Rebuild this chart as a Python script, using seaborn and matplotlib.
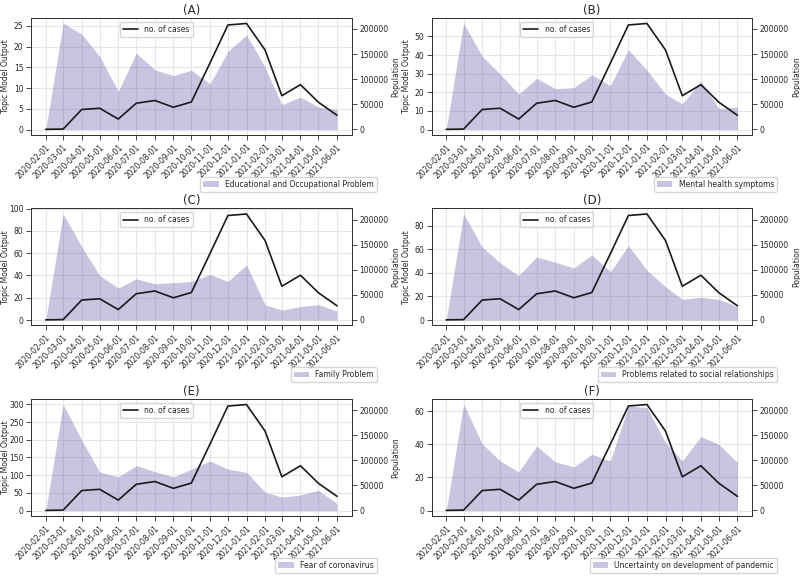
import pandas as pd
import numpy as np
import seaborn as sns
import matplotlib.pyplot as plt

# monthly dates shared by all panels
dates = ['2020-02-01', '2020-03-01', '2020-04-01', '2020-05-01', '2020-06-01',
         '2020-07-01', '2020-08-01', '2020-09-01', '2020-10-01', '2020-11-01',
         '2020-12-01', '2021-01-01', '2021-02-01', '2021-03-01', '2021-04-01',
         '2021-05-01', '2021-06-01']

# number of cases (right axis)
cases = [0, 500, 39500, 42000, 20500, 52000, 57500, 44000, 54500, 132000,
         208000, 211000, 158000, 67000, 89000, 54000, 28000]

# topic model outputs (left axis)
educational = [0, 25.6, 23.0, 17.6, 9.2, 18.4, 14.4, 13.0, 14.3, 11.0,
               18.8, 22.8, 15.0, 6.0, 7.8, 5.4, 4.8]
mental = [0, 57.1, 39.4, 29.8, 19.1, 27.5, 22.0, 22.5, 29.4, 23.6,
          42.9, 31.9, 19.0, 13.8, 25.9, 11.2, 12.1]
family = [0, 95.4, 65.8, 40.0, 28.7, 37.0, 32.6, 33.5, 34.7, 40.9,
          34.7, 49.5, 13.6, 8.9, 12.1, 13.9, 8.0]
social = [0, 90.1, 62.0, 48.5, 37.7, 53.5, 49.0, 44.2, 55.2, 41.1,
          63.1, 42.3, 28.2, 17.5, 19.4, 17.5, 11.5]
fear = [0, 300, 199, 109, 95, 127, 110, 95, 117, 140,
        117, 108, 52, 38, 44, 57, 20]
uncertainty = [0, 64.2, 40.4, 30.0, 23.3, 39.0, 29.4, 26.4, 34.0, 30.0,
               63.2, 62.2, 41.0, 30.0, 44.7, 40.0, 29.0]

panel_titles = ['(A)', '(B)', '(C)', '(D)', '(E)', '(F)']
topic_names = ['Educational and Occupational Problem', 'Mental health symptoms',
               'Family Problem', 'Problems related to social relationships',
               'Fear of coronavirus', 'Uncertainty on development of pandemic']
topic_values = [educational, mental, family, social, fear, uncertainty]

sns.set_style("ticks", {"axes.grid": True, "grid.color": "#e6e6e6",
                        "axes.edgecolor": "#333333"})
plt.rcParams['font.family'] = ['DejaVu Sans']

fig, axes = plt.subplots(3, 2, figsize=(8, 5.79), dpi=100)
fig.subplots_adjust(left=0.039, right=0.94, top=0.969, bottom=0.109,
                    wspace=0.25, hspace=0.63)

x = pd.to_datetime(dates)

for i, ax in enumerate(axes.flat):
    df = pd.DataFrame({'Date': x, 'topic': topic_values[i], 'cases': cases})

    # topic output as shaded area on the left axis
    ax.fill_between(df['Date'], 0, df['topic'], color='#4b3f9e',
                    alpha=0.3, linewidth=0, label=topic_names[i])
    ax.set_xticks(x)
    ax.set_xticklabels(dates, rotation=45, ha='right', rotation_mode='anchor',
                       fontsize=5.5)
    ax.tick_params(axis='both', labelsize=5.5, length=3.5, width=0.6, pad=2)
    ax.set_title(panel_titles[i], fontsize=8.5, pad=3)
    if i < 5:
        ax.set_ylabel('Topic Model Output', fontsize=5.5)
        ax.yaxis.set_label_coords(-0.066, 0.5)
    for s in ax.spines.values():
        s.set_linewidth(0.7)

    # case counts on the twin axis
    ax2 = ax.twinx()
    sns.lineplot(data=df, x='Date', y='cases', ax=ax2, color='#1a1a1a',
                 linewidth=1.2, label='no. of cases')
    ax2.grid(False)
    ax2.tick_params(axis='y', labelsize=5.5, length=3.5, width=0.6, pad=2)
    ax2.set_ylabel('Population' if i < 5 else '', fontsize=5.5)
    ax2.yaxis.set_label_coords(1.125, 0.5)
    ax2.set_xlabel('Date', fontsize=5.5, labelpad=2)
    ax2.set_ylim(-11000, 222000)
    ax2.set_yticks([0, 50000, 100000, 150000, 200000])
    ax2.legend(loc='upper center', bbox_to_anchor=(0.39, 1.0), fontsize=5.5,
               frameon=True)
    for s in ax2.spines.values():
        s.set_linewidth(0.7)

    ymax = max(topic_values[i])
    ax.set_ylim(-ymax * 0.05, ymax * 1.05)
    ax.legend(loc='lower right', bbox_to_anchor=(1.09, -0.52), fontsize=5.5,
              frameon=True)

fig.savefig('out.png', dpi=100)
